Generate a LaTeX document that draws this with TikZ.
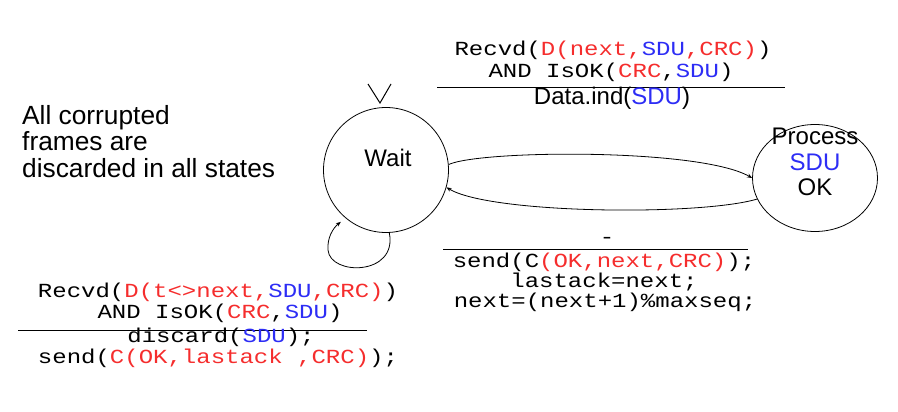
\documentclass[tikz,border=0pt]{standalone}
\usepackage{fontspec}
\setmainfont{Liberation Sans}
\setsansfont{Liberation Sans}
\setmonofont[FakeStretch=1.2]{Liberation Mono}
\usetikzlibrary{shapes.geometric,arrows.meta}
\definecolor{cred}{RGB}{245,45,45}
\definecolor{cblue}{RGB}{45,45,245}
\newcommand{\rd}[1]{\textcolor{cred}{#1}}
\newcommand{\bl}[1]{\textcolor{cblue}{#1}}
\begin{document}
\begin{tikzpicture}[x=1pt,y=-1pt,
  lbl/.style={anchor=base,inner sep=0pt,font=\fontsize{24}{24}\selectfont},
  code/.style={anchor=base,inner sep=0pt,font=\ttfamily\fontsize{20}{20}\selectfont},
  state/.style={draw,line width=0.8pt,inner sep=0pt},
  conn/.style={line width=0.8pt,-{Stealth[length=5pt,width=4pt]}},
  rule/.style={line width=0.8pt}]
\useasboundingbox (0,0) rectangle (898,412);
% states
\node[state,circle,minimum size=125pt] (wait) at (386,170) {};
\node[lbl] (waittxt) at (388,166) {Wait};
\node[state,ellipse,minimum width=125pt,minimum height=107pt] (proc) at (815,178) {};
\node[lbl] (p1) at (815,145) {Process};
\node[lbl] (p2) at (815,171) {\bl{SDU}};
\node[lbl] (p3) at (815,195) {OK};
% initial marker
\draw[line width=1pt] (368,84) -- (380,103) -- (391,84);
% connectors
\draw[conn] (wait.5) .. controls (480,150) and (700,148) .. (proc.west);
\draw[conn] (proc.200) .. controls (700,216) and (490,214) .. (wait.-16);
\draw[conn,shorten >=6pt] (wait.-87) .. controls (398,276) and (330,276) .. (328,250) .. controls (327,238) and (333,228) .. (wait.-130);
% left note
\node[anchor=base west,inner sep=0pt,align=left,font=\fontsize{26.3}{26.5}\selectfont] (note) at (22,177) {All corrupted\\frames are\\discarded in all states};
% top label
\node[code] (t1) at (613,56) {Recvd(\rd{D(next,}\bl{SDU}\rd{,CRC)})};
\node[code] (t2) at (611,78) {AND IsOK(\rd{CRC},\bl{SDU})};
\draw[rule] (437,87) -- (785,87);
\node[lbl] (t3) at (612,105) {Data.ind(\bl{SDU})};
% bottom right label
\node[code] (r0) at (607,243) {-};
\draw[rule] (443,249) -- (748,249);
\node[code] (r1) at (604,267) {send(C\rd{(OK,next,CRC)});};
\node[code] (r2) at (604,287) {lastack=next;};
\node[code] (r3) at (605,307) {next=(next+1)\%maxseq;};
% bottom left label
\node[code] (l1) at (218,297) {Recvd(\rd{D(t<>next,}\bl{SDU}\rd{,CRC)})};
\node[code] (l2) at (220,318) {AND IsOK(\rd{CRC},\bl{SDU})};
\draw[rule] (18,330) -- (367,330);
\node[code] (l3) at (221,342) {discard(\bl{SDU});};
\node[code] (l4) at (218,363) {send(\rd{C(OK,lastack ,CRC)});};
\end{tikzpicture}
\end{document}
